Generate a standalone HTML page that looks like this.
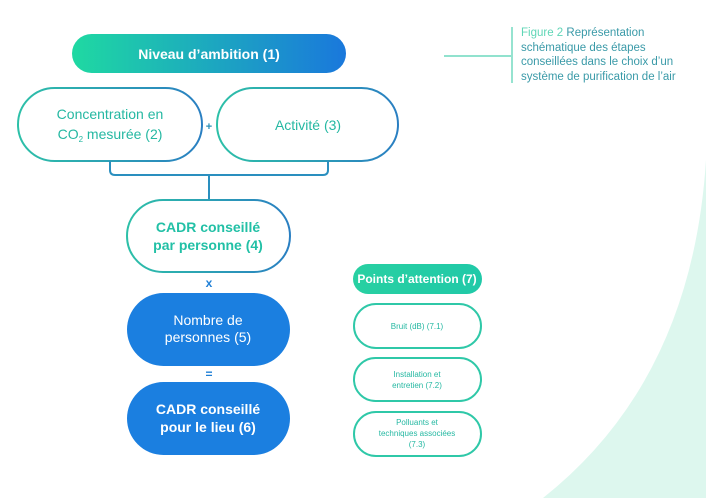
<!DOCTYPE html>
<html><head><meta charset="utf-8"><style>
html,body{margin:0;padding:0;background:#fff;}
body{width:706px;height:498px;overflow:hidden;position:relative;font-family:"Liberation Sans",sans-serif;}
svg{position:absolute;left:0;top:0;}
</style></head><body>
<svg width="706" height="498" viewBox="0 0 706 498" xmlns="http://www.w3.org/2000/svg" font-family="Liberation Sans, sans-serif">
<defs>
<linearGradient id="g1" x1="0" y1="0" x2="1" y2="0"><stop offset="0" stop-color="#1fd9a2"/><stop offset="1" stop-color="#1a78dc"/></linearGradient>
<linearGradient id="gs" x1="0" y1="0" x2="1" y2="0"><stop offset="0" stop-color="#2dc0a8"/><stop offset="1" stop-color="#2a7fc2"/></linearGradient>
<linearGradient id="gt" x1="0" y1="0" x2="1" y2="0"><stop offset="0" stop-color="#28d0a2"/><stop offset="1" stop-color="#20c9a8"/></linearGradient>
</defs>
<path d="M706 160 Q692 380 543 498 L706 498 Z" fill="#ddf7ee"/>
<line x1="444" y1="56" x2="511" y2="56" stroke="#4fd0b0" stroke-width="1.2"/>
<line x1="512" y1="27" x2="512" y2="83" stroke="#4fd0b0" stroke-width="1.2"/>
<text font-size="11.5" fill="#3a9aa8">
<tspan x="521" y="36"><tspan fill="#5fd6b6">Figure 2</tspan> Représentation</tspan>
<tspan x="521" y="51">schématique des étapes</tspan>
<tspan x="521" y="65">conseillées dans le choix d’un</tspan>
<tspan x="521" y="80">système de purification de l’air</tspan>
</text>
<rect x="72" y="34" width="274" height="39" rx="19.5" fill="url(#g1)"/>
<text x="209" y="59" font-size="14" font-weight="bold" fill="#fff" text-anchor="middle">Niveau d’ambition (1)</text>
<rect x="18" y="88" width="184" height="73" rx="36.5" fill="#fff" stroke="url(#gs)" stroke-width="2"/>
<text font-size="14" fill="#25b8a2" text-anchor="middle"><tspan x="110" y="119">Concentration en</tspan><tspan x="110" y="139">CO<tspan font-size="8" dy="3">2</tspan><tspan dy="-3"> mesurée (2)</tspan></tspan></text>
<text x="209" y="130" font-size="11" font-weight="bold" fill="#2a8fb8" text-anchor="middle">+</text>
<rect x="217" y="88" width="181" height="73" rx="36.5" fill="#fff" stroke="url(#gs)" stroke-width="2"/>
<text x="308" y="130" font-size="14" fill="#25b8a2" text-anchor="middle">Activité (3)</text>
<path d="M110 161 V170 Q110 175 115 175 H323 Q328 175 328 170 V161 M209 175 V200" fill="none" stroke="#2a8fbf" stroke-width="2"/>
<rect x="127" y="200" width="163" height="72" rx="36" fill="#fff" stroke="url(#gs)" stroke-width="2"/>
<text font-size="14" font-weight="bold" fill="#22c0a6" text-anchor="middle"><tspan x="208" y="232">CADR conseillé</tspan><tspan x="208" y="250">par personne (4)</tspan></text>
<text x="209" y="287" font-size="12" font-weight="bold" fill="#1f7fd6" text-anchor="middle">x</text>
<rect x="127" y="293" width="163" height="73" rx="36.5" fill="#1b7fe0"/>
<text font-size="14" fill="#fff" text-anchor="middle"><tspan x="208" y="325">Nombre de</tspan><tspan x="208" y="342">personnes (5)</tspan></text>
<text x="209" y="378" font-size="12" font-weight="bold" fill="#1f7fd6" text-anchor="middle">=</text>
<rect x="127" y="382" width="163" height="73" rx="36.5" fill="#1b7fe0"/>
<text font-size="14" font-weight="bold" fill="#fff" text-anchor="middle"><tspan x="208" y="414">CADR conseillé</tspan><tspan x="208" y="432">pour le lieu (6)</tspan></text>
<rect x="353" y="264" width="129" height="30" rx="15" fill="url(#gt)"/>
<text x="417" y="283" font-size="12" font-weight="bold" fill="#fff" text-anchor="middle">Points d’attention (7)</text>
<rect x="354" y="304" width="127" height="44" rx="22" fill="#fff" stroke="#2fc8a8" stroke-width="2"/>
<text x="417" y="329" font-size="8" fill="#25b8a2" text-anchor="middle">Bruit (dB) (7.1)</text>
<rect x="354" y="358" width="127" height="43" rx="21.5" fill="#fff" stroke="#2fc8a8" stroke-width="2"/>
<text font-size="8" fill="#25b8a2" text-anchor="middle"><tspan x="417" y="377">Installation et</tspan><tspan x="417" y="388">entretien (7.2)</tspan></text>
<rect x="354" y="412" width="127" height="44" rx="22" fill="#fff" stroke="#2fc8a8" stroke-width="2"/>
<text font-size="8" fill="#25b8a2" text-anchor="middle"><tspan x="417" y="425">Polluants et</tspan><tspan x="417" y="436">techniques associées</tspan><tspan x="417" y="447">(7.3)</tspan></text>
</svg>
</body></html>
